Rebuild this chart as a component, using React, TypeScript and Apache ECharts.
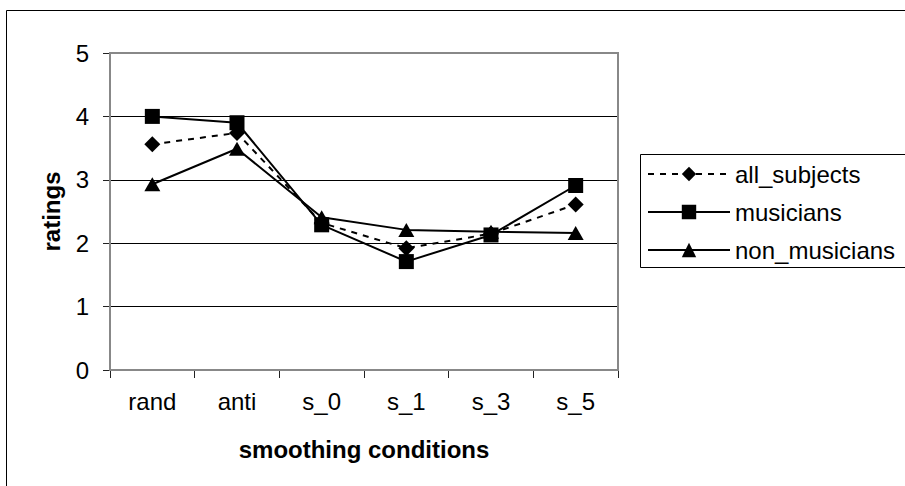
import React, { useEffect, useRef } from "react";
import * as echarts from "echarts";

const categories = ["rand", "anti", "s_0", "s_1", "s_3", "s_5"];
const allSubjects = [3.56, 3.74, 2.32, 1.92, 2.15, 2.61];
const musicians = [4.0, 3.9, 2.29, 1.71, 2.13, 2.91];
const nonMusicians = [2.93, 3.49, 2.41, 2.21, 2.18, 2.16];
const yTicks = [0, 1, 2, 3, 4, 5];

const FONT = "'Liberation Sans', Arial, sans-serif";

export default function App() {
  const ref = useRef<HTMLDivElement>(null);
  useEffect(() => {
    if (!ref.current) return;
    const chart = echarts.init(ref.current, undefined, { renderer: "svg" });
    const lineBase = { color: "#000", width: 2 };
    chart.setOption({
      animation: false,
      backgroundColor: "#fff",
      textStyle: { fontFamily: FONT, color: "#000" },
      grid: { left: 110, right: 287, top: 53, bottom: 116, containLabel: false },
      xAxis: {
        type: "category",
        data: categories,
        boundaryGap: true,
        axisLine: { lineStyle: { color: "#222", width: 2 } },
        axisTick: { show: true, length: 8, lineStyle: { color: "#222", width: 1 } },
        axisLabel: { fontSize: 24, color: "#000", margin: 19, fontFamily: FONT },
        name: "smoothing conditions",
        nameLocation: "middle",
        nameGap: 67,
        nameTextStyle: { fontSize: 24, fontWeight: "bold", color: "#000", fontFamily: FONT },
      },
      yAxis: {
        type: "value",
        min: yTicks[0],
        max: yTicks[yTicks.length - 1],
        interval: 1,
        axisLine: { show: true, lineStyle: { color: "#222", width: 2 } },
        axisTick: { show: true, length: 7, lineStyle: { color: "#222", width: 1 } },
        axisLabel: { fontSize: 24, color: "#000", margin: 21, fontFamily: FONT },
        splitLine: { show: true, lineStyle: { color: "#000", width: 1 } },
        name: "ratings",
        nameLocation: "middle",
        nameGap: 47,
        nameRotate: 90,
        nameTextStyle: { fontSize: 24, fontWeight: "bold", color: "#000", fontFamily: FONT },
      },
      legend: {
        orient: "vertical",
        left: 647,
        top: 162,
        itemWidth: 82,
        itemHeight: 18,
        itemGap: 14,
        padding: 0,
        textStyle: { fontSize: 24, color: "#000", fontFamily: FONT, lineHeight: 24 },
        data: ["all_subjects", "musicians", "non_musicians"],
      },
      graphic: [
        {
          type: "rect",
          shape: { x: 6.5, y: 10.5, width: 1200, height: 1000 },
          style: { fill: "none", stroke: "#000", lineWidth: 1 },
          silent: true,
          z: 0,
        },
        {
          type: "rect",
          shape: { x: 110, y: 53, width: 508, height: 317 },
          style: { fill: "none", stroke: "#888", lineWidth: 2 },
          silent: true,
          z: 1,
        },
        {
          type: "rect",
          shape: { x: 640.5, y: 154.5, width: 400, height: 113 },
          style: { fill: "none", stroke: "#000", lineWidth: 1 },
          silent: true,
          z: 1,
        },
      ],
      series: [
        {
          name: "all_subjects",
          type: "line",
          data: allSubjects,
          symbol: "diamond",
          symbolSize: 16,
          showAllSymbol: true,
          lineStyle: { ...lineBase, type: [6, 6] },
          itemStyle: { color: "#000" },
          z: 3,
        },
        {
          name: "musicians",
          type: "line",
          data: musicians,
          symbol: "rect",
          symbolSize: 15,
          lineStyle: { ...lineBase },
          itemStyle: { color: "#000" },
          z: 4,
        },
        {
          name: "non_musicians",
          type: "line",
          data: nonMusicians,
          symbol: "triangle",
          symbolSize: [16, 14],
          lineStyle: { ...lineBase },
          itemStyle: { color: "#000" },
          z: 5,
        },
      ],
    });
    return () => chart.dispose();
  }, []);
  return (
    <div
      ref={ref}
      style={{ position: "fixed", left: 0, top: 0, width: 905, height: 486, background: "#fff" }}
    />
  );
}
